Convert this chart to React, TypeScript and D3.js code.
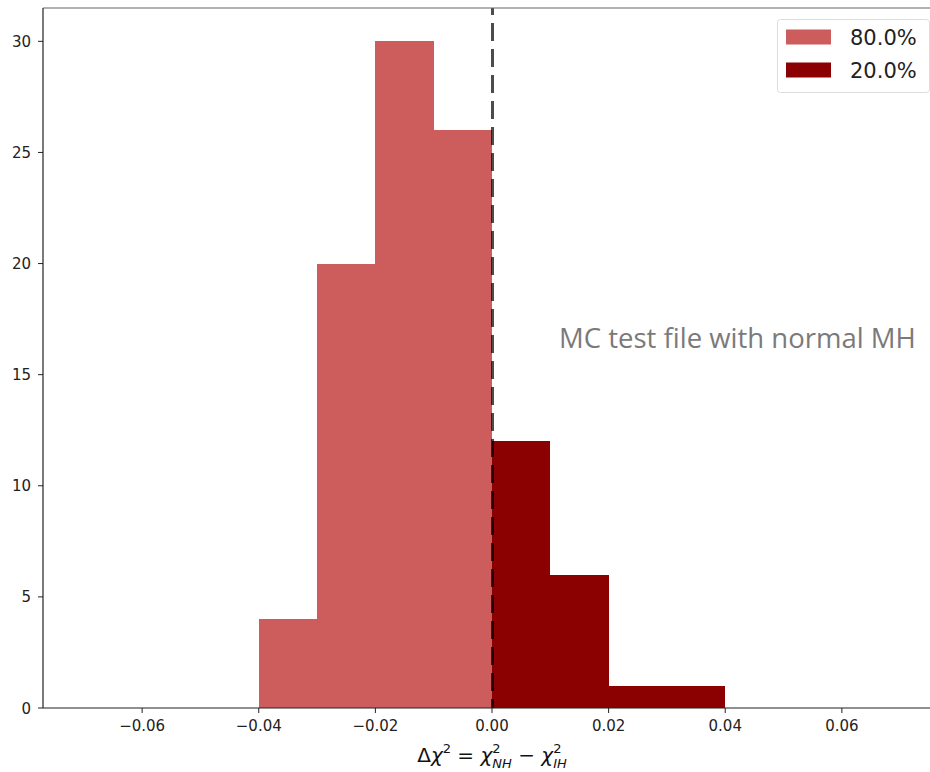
import React, { useEffect, useRef } from "react";
import * as d3 from "d3";

// Histogram bins of Δχ² (left edges, width 0.01) and counts per group
const binEdgesNeg = [-0.04, -0.03, -0.02, -0.01];
const countsNeg = [4, 20, 30, 26];
const binEdgesPos = [0.0, 0.01, 0.02, 0.03];
const countsPos = [12, 6, 1, 1];
const binWidth = 0.01;

const legendLabels = ["80.0%", "20.0%"];
const groupColors = ["#CD5C5C", "#8B0000"];
const xTicks = [-0.06, -0.04, -0.02, 0.0, 0.02, 0.04, 0.06];
const yTicks = [0, 5, 10, 15, 20, 25, 30];
const annotation = "MC test file with normal MH";

const W = 930;
const H = 772;
const margin = { left: 43, top: 8, right: -11, bottom: 64 };

export default function App() {
  const ref = useRef<SVGSVGElement>(null);

  useEffect(() => {
    const svg = d3.select(ref.current);
    svg.selectAll("*").remove();

    const x0 = margin.left;
    const x1 = W - margin.right;
    const y0 = H - margin.bottom;
    const y1 = margin.top;

    const x = d3.scaleLinear().domain([-0.077, 0.077]).range([x0, x1]);
    const y = d3.scaleLinear().domain([0, 31.5]).range([y0, y1]);

    const font = "DejaVu Sans, sans-serif";

    const groups = [
      { edges: binEdgesNeg, counts: countsNeg, color: groupColors[0] },
      { edges: binEdgesPos, counts: countsPos, color: groupColors[1] },
    ];

    groups.forEach((g) => {
      svg
        .append("g")
        .selectAll("rect")
        .data(g.edges.map((e, i) => ({ e, c: g.counts[i] })))
        .join("rect")
        .attr("x", (d) => x(d.e))
        .attr("width", (d) => x(d.e + binWidth) - x(d.e))
        .attr("y", (d) => y(d.c))
        .attr("height", (d) => y(0) - y(d.c))
        .attr("fill", g.color)
        .attr("shape-rendering", "crispEdges");
    });

    // Reference line at zero
    svg
      .append("line")
      .attr("x1", x(0) + 0.5)
      .attr("x2", x(0) + 0.5)
      .attr("y1", y1)
      .attr("y2", y0)
      .attr("stroke", "#000")
      .attr("stroke-opacity", 0.7)
      .attr("stroke-width", 3)
      .attr("stroke-dasharray", "18,8")
      .attr("stroke-dashoffset", 11);

    // Spines
    svg
      .append("line")
      .attr("x1", x0)
      .attr("x2", x1)
      .attr("y1", y1)
      .attr("y2", y1)
      .attr("stroke", "#666")
      .attr("stroke-width", 1.2);
    svg
      .append("line")
      .attr("x1", x0)
      .attr("x2", x0)
      .attr("y1", y1)
      .attr("y2", y0)
      .attr("stroke", "#222")
      .attr("stroke-width", 1.2);
    svg
      .append("line")
      .attr("x1", x0)
      .attr("x2", x1)
      .attr("y1", y0)
      .attr("y2", y0)
      .attr("stroke", "#222")
      .attr("stroke-width", 1.2);

    // X ticks
    const xt = svg.append("g");
    xTicks.forEach((t) => {
      xt.append("line")
        .attr("x1", x(t))
        .attr("x2", x(t))
        .attr("y1", y0)
        .attr("y2", y0 + 5)
        .attr("stroke", "#222")
        .attr("stroke-width", 1);
      xt.append("text")
        .attr("x", x(t))
        .attr("y", y0 + 23)
        .attr("text-anchor", "middle")
        .attr("font-family", font)
        .attr("font-size", 15)
        .attr("fill", "#222")
        .text(d3.format(".2f")(t).replace("-", "\u2212"));
    });

    // Y ticks
    const yt = svg.append("g");
    yTicks.forEach((t) => {
      yt.append("line")
        .attr("x1", x0 - 5)
        .attr("x2", x0)
        .attr("y1", y(t))
        .attr("y2", y(t))
        .attr("stroke", "#222")
        .attr("stroke-width", 1);
      yt.append("text")
        .attr("x", x0 - 12)
        .attr("y", y(t) + 5.5)
        .attr("text-anchor", "end")
        .attr("font-family", font)
        .attr("font-size", 15)
        .attr("fill", "#222")
        .text(String(t));
    });

    // X axis label: Δχ² = χ²_NH − χ²_IH, built from separate pieces
    const lblY = 762;
    const big = 20;
    const small = 13;
    const parts: { t: string; size: number; italic: boolean; dy: number; back?: boolean }[] = [
      { t: "Δ", size: big, italic: false, dy: 0 },
      { t: "χ", size: big, italic: true, dy: 0 },
      { t: "2", size: small, italic: false, dy: -9 },
      { t: " = ", size: big, italic: false, dy: 0 },
      { t: "χ", size: big, italic: true, dy: 0 },
      { t: "2", size: small, italic: false, dy: -9 },
      { t: "NH", size: small, italic: true, dy: 6, back: true },
      { t: " − ", size: big, italic: false, dy: 0 },
      { t: "χ", size: big, italic: true, dy: 0 },
      { t: "2", size: small, italic: false, dy: -9 },
      { t: "IH", size: small, italic: true, dy: 6, back: true },
    ];
    const lblG = svg.append("g");
    const nodes: { el: SVGTextElement; w: number; back?: boolean }[] = [];
    parts.forEach((p) => {
      const el = lblG
        .append("text")
        .attr("y", lblY + p.dy)
        .attr("font-family", font)
        .attr("font-size", p.size)
        .attr("font-style", p.italic ? "italic" : "normal")
        .attr("fill", "#111")
        .style("white-space", "pre")
        .text(p.t)
        .node() as SVGTextElement;
      nodes.push({ el, w: el.getComputedTextLength(), back: p.back });
    });
    // lay out horizontally; subscripts sit under the preceding superscript
    let cx = 0;
    let prevStart = 0;
    const xs: number[] = [];
    nodes.forEach((n) => {
      if (n.back) {
        xs.push(prevStart);
        cx = Math.max(cx, prevStart + n.w);
      } else {
        xs.push(cx);
        prevStart = cx;
        cx += n.w;
      }
    });
    const startX = x(0) - cx / 2;
    nodes.forEach((n, i) => n.el.setAttribute("x", String(startX + xs[i])));

    // Legend
    const lg = svg.append("g");
    lg.append("rect")
      .attr("x", 777.5)
      .attr("y", 19.5)
      .attr("width", 152)
      .attr("height", 73)
      .attr("rx", 3)
      .attr("fill", "#fff")
      .attr("fill-opacity", 0.8)
      .attr("stroke", "#ddd");
    legendLabels.forEach((l, i) => {
      const cy = 37 + i * 33;
      lg.append("rect")
        .attr("x", 786)
        .attr("y", cy - 7.5)
        .attr("width", 45)
        .attr("height", 15)
        .attr("fill", groupColors[i]);
      lg.append("text")
        .attr("x", 850)
        .attr("y", cy + 7.5)
        .attr("font-family", font)
        .attr("font-size", 21)
        .attr("fill", "#222")
        .text(l);
    });

    // Annotation
    svg
      .append("text")
      .attr("x", 559)
      .attr("y", 348)
      .attr("font-family", "Open Sans, sans-serif")
      .attr("font-size", 27.5)
      .attr("fill", "#7a7a7a")
      .text(annotation);
  }, []);

  return (
    <svg
      ref={ref}
      width={W}
      height={H}
      style={{ position: "absolute", left: 0, top: 0, background: "#fff" }}
    />
  );
}
